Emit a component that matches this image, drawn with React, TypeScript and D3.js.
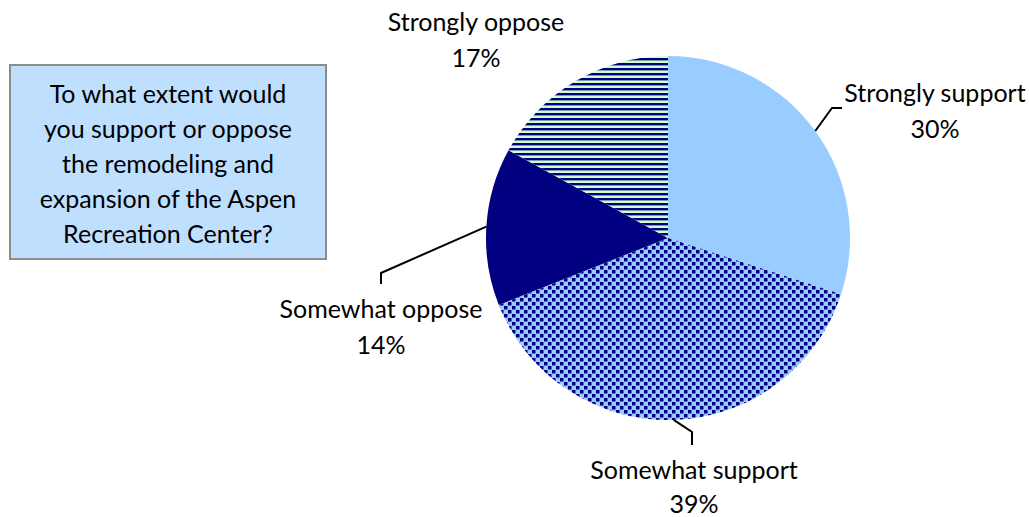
import React from "react";
import * as d3 from "d3";

const categories = ["Strongly support", "Somewhat support", "Somewhat oppose", "Strongly oppose"];
const values = [30, 39, 14, 17];
const percentLabels = ["30%", "39%", "14%", "17%"];
const fills = ["#99CCFF", "url(#dots)", "#000080", "url(#stripes)"];
const questionLines = [
  "To what extent would",
  "you support or oppose",
  "the remodeling and",
  "expansion of the Aspen",
  "Recreation Center?",
];

// label layout: text center x, first line center y, leader elbow (or null)
const labelX = [935, 694, 381, 476];
const labelY = [92, 469, 308, 21];
const elbows: ([number, number][] | null)[] = [
  [[832, 108], [842, 108]],
  [[692, 432], [692, 445]],
  [[381, 273], [381, 284]],
  null,
];

const W = 1029;
const H = 517;
const cx = 668;
const cy = 238;
const R = 182;
const FONT = "Lato, 'Open Sans', sans-serif";
const FS = 25;
const LINE = 36;

export default function App() {
  const pie = d3.pie<number>().sort(null).value((d) => d)(values);
  const arc = d3.arc<d3.PieArcDatum<number>>().innerRadius(0).outerRadius(R);

  return (
    <svg width={W} height={H} style={{ position: "absolute", left: 0, top: 0, background: "#fff" }}>
      <defs>
        <pattern id="dots" width={8} height={8} patternUnits="userSpaceOnUse">
          <rect width={8} height={8} fill="#99CCFF" />
          <rect x={0} y={0} width={3.5} height={3.5} fill="#000080" />
          <rect x={4} y={4} width={3.5} height={3.5} fill="#000080" />
        </pattern>
        <pattern id="stripes" width={5} height={5} patternUnits="userSpaceOnUse">
          <rect width={5} height={5} fill="#CCFFCC" />
          <rect y={0} width={5} height={2.4} fill="#000080" />
        </pattern>
      </defs>

      <rect x={10} y={65} width={316} height={194} fill="#BFDFFF" stroke="#8C8C8C" strokeWidth={2} />
      {questionLines.map((t, i) => (
        <text
          key={t}
          x={168}
          y={93 + i * 35}
          textAnchor="middle"
          dominantBaseline="central"
          fontFamily={FONT}
          fontSize={FS}
          fill="#000"
        >
          {t}
        </text>
      ))}

      <g transform={`translate(${cx},${cy})`}>
        {pie.map((p, i) => (
          <path key={categories[i]} d={arc(p) || ""} fill={fills[i]} />
        ))}
      </g>

      {pie.map((p, i) => {
        const mid = (p.startAngle + p.endAngle) / 2;
        const sx = cx + R * Math.sin(mid);
        const sy = cy - R * Math.cos(mid);
        const el = elbows[i];
        return (
          <g key={categories[i]}>
            {el && (
              <polyline
                points={[[sx, sy], ...el].map((q) => q.join(",")).join(" ")}
                fill="none"
                stroke="#000"
                strokeWidth={2}
              />
            )}
            <text
              x={labelX[i]}
              y={labelY[i]}
              textAnchor="middle"
              dominantBaseline="central"
              fontFamily={FONT}
              fontSize={FS}
              fill="#000"
            >
              {categories[i]}
            </text>
            <text
              x={labelX[i]}
              y={labelY[i] + (i === 1 ? 34 : LINE)}
              textAnchor="middle"
              dominantBaseline="central"
              fontFamily={FONT}
              fontSize={FS}
              fill="#000"
            >
              {percentLabels[i]}
            </text>
          </g>
        );
      })}
    </svg>
  );
}
